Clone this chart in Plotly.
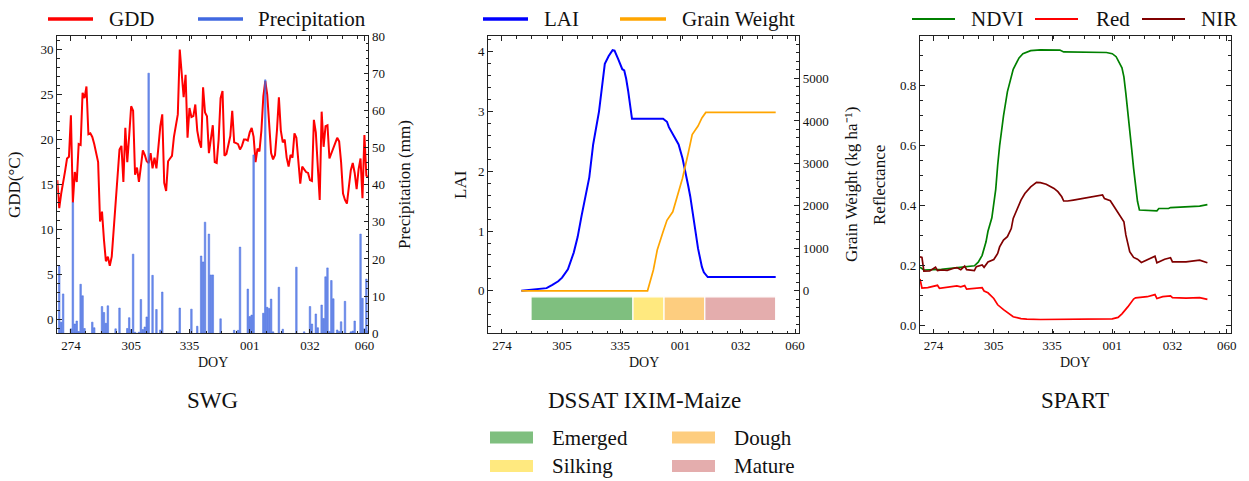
import plotly.graph_objects as go

W, H = 1249, 481
FONT = "Liberation Serif"
INK = "#111111"

# ---------------- data (x = days since 1 Oct, i.e. DOY 274) ----------------
tick_days = [0, 31, 61, 92, 123, 151]
tick_labels = ["274", "305", "335", "001", "032", "060"]

# SWG: daily GDD and precipitation
gdd_day = list(range(-7, 154))
gdd = [15.5, 12.4, 14.0, 15.5, 16.5, 17.9, 18.1,
       22.7, 13.0, 16.4, 15.3, 19.5, 19.4, 25.2, 24.6, 25.9, 20.6,
       20.7, 20.3, 19.5, 18.5, 17.5, 10.9, 12.0, 8.9, 6.5, 7.0,
       6.0, 7.0, 10.0, 12.0, 15.5, 18.9, 19.3, 15.3, 21.3, 17.5,
       20.5, 23.7, 23.2, 16.1, 16.9, 15.3, 17.0, 18.8, 18.3, 17.6,
       17.4, 18.5, 16.8, 18.0, 16.8, 19.0, 21.5, 22.8, 15.2, 14.3,
       17.6, 17.9, 18.2, 20.3, 21.5, 22.8, 30.0, 27.2, 24.7, 27.2,
       20.2, 23.5, 22.5, 22.6, 23.9, 21.0, 19.8, 19.1, 25.8, 23.0,
       22.6, 18.5, 20.4, 21.6, 17.5, 17.4, 20.0, 24.6, 25.4, 18.2,
       18.4, 19.5, 20.4, 23.2, 19.7, 19.6, 19.5, 18.9, 19.3, 20.0,
       20.0, 19.9, 20.8, 21.3, 20.3, 17.5, 19.0, 18.7, 21.0, 24.8,
       26.5, 25.0, 22.0, 18.5, 17.8, 18.3, 21.0, 24.7, 21.0, 19.7,
       20.0, 18.0, 17.0, 18.3, 18.0, 20.7, 20.2, 17.5, 15.1, 17.0,
       16.7, 16.4, 16.3, 15.5, 15.4, 22.2, 20.8, 17.0, 13.3, 23.1,
       19.2, 21.5, 21.6, 17.9, 18.5, 19.2, 19.8, 20.2, 19.8, 17.5,
       14.0, 13.3, 12.9, 14.5, 16.6, 17.4, 16.3, 14.5, 16.7, 17.9,
       13.5, 20.5, 16.0, 15.9]

precip_day = [-6, -5, -4, 0, 1, 2, 3, 4, 5, 6, 7, 11, 12, 16, 17, 18, 19,
              23, 25, 29, 30, 31, 32, 33, 35, 36, 37, 38, 39, 40, 42, 44,
              46, 47, 55, 56, 62, 65, 67, 68, 69, 71, 72, 73, 77, 84, 86,
              87, 91, 92, 93, 94, 99, 100, 101, 102, 103, 104, 107, 109,
              116, 120, 123, 124, 126, 127, 129, 130, 131, 132, 133, 134,
              135, 137, 138, 139, 141, 144, 145, 146, 149, 150, 151, 152, 153]
precip_mm = [18.1, 3.0, 10.6, 1.2, 35.2, 2.5, 3.3, 0.5, 13.2, 10.1, 1.3,
             3.0, 1.5, 7.2, 5.6, 2.7, 7.4, 1.2, 6.8, 1.3, 4.2, 1.0, 21.3,
             0.3, 0.3, 9.1, 1.0, 1.7, 4.4, 70.0, 15.6, 6.4, 0.9, 11.1, 0.4,
             6.8, 6.5, 1.9, 20.8, 19.2, 29.9, 26.7, 15.7, 15.7, 3.9, 0.8,
             0.8, 23.2, 11.9, 4.5, 4.9, 48.0, 5.4, 68.2, 7.0, 6.7, 9.2,
             0.4, 12.4, 1.1, 17.8, 0.4, 7.2, 2.5, 5.2, 1.5, 7.6, 4.0, 15.2,
             17.6, 0.5, 14.2, 9.3, 0.9, 0.5, 3.1, 8.6, 0.4, 0.6, 3.3, 26.7,
             9.4, 1.2, 14.6, 0.7]

# DSSAT IXIM-Maize
lai_day = [10, 17, 23, 26, 29, 31, 34, 37, 39, 41, 43, 45, 47, 50, 53, 55,
           57, 58, 60, 61, 62, 63, 64, 65, 67, 83, 85, 86, 88, 90, 91, 93,
           95, 96, 97, 99, 101, 103, 104, 106, 141]
lai = [0.00, 0.02, 0.045, 0.10, 0.16, 0.22, 0.36, 0.64, 0.90, 1.25, 1.55,
       1.90, 2.45, 3.00, 3.80, 3.93, 4.03, 4.02, 3.87, 3.77, 3.71, 3.69,
       3.55, 3.35, 2.88, 2.88, 2.83, 2.74, 2.63, 2.52, 2.45, 2.22, 1.93,
       1.75, 1.58, 1.16, 0.71, 0.40, 0.31, 0.23, 0.23]
gw_day = [10, 75, 78, 80, 83, 85, 88, 91, 93, 96, 98, 101, 103, 105, 141]
grain_weight = [0, 0, 490, 960, 1390, 1660, 1860, 2300, 2650, 3250, 3680,
                3880, 4070, 4200, 4200]

phase_names = ["Emerged", "Silking", "Dough", "Mature"]
phase_start = [15, 67.5, 83.5, 104.5]
phase_end = [67.5, 83.5, 104.5, 141]
phase_colors = ["#7fbf7f", "#ffe97f", "#fdcd7f", "#e4adad"]

# SPART
ndvi_day = [-7, -5, 4, 16, 21, 23, 25, 27, 28, 30, 31, 32, 33, 34, 36, 38,
            41, 44, 46, 50, 55, 62, 65, 67, 82, 89, 92, 94, 97, 98, 99, 100,
            101, 102, 103, 104, 105, 106, 115, 116, 121, 122, 130, 137, 141]
ndvi = [0.195, 0.186, 0.188, 0.195, 0.200, 0.212, 0.235, 0.280, 0.315,
        0.360, 0.400, 0.455, 0.535, 0.600, 0.700, 0.780, 0.855, 0.893,
        0.907, 0.917, 0.920, 0.921, 0.919, 0.913, 0.913, 0.911, 0.907,
        0.897, 0.860, 0.830, 0.775, 0.720, 0.655, 0.590, 0.525, 0.460,
        0.415, 0.386, 0.383, 0.391, 0.391, 0.394, 0.396, 0.399, 0.404]
red_day = [-7, -6, -3, 0, 2, 3, 7, 10, 12, 14, 16, 17, 21, 23, 25, 26, 28,
           31, 33, 36, 39, 41, 45, 48, 55, 89, 92, 95, 97, 100, 103, 104,
           106, 110, 114, 115, 118, 122, 123, 130, 137, 141]
red = [0.156, 0.126, 0.127, 0.132, 0.135, 0.125, 0.128, 0.130, 0.133,
       0.130, 0.134, 0.122, 0.125, 0.128, 0.127, 0.116, 0.110, 0.091,
       0.070, 0.054, 0.040, 0.030, 0.024, 0.022, 0.021, 0.021, 0.023,
       0.028, 0.040, 0.063, 0.089, 0.093, 0.094, 0.097, 0.104, 0.091,
       0.097, 0.100, 0.094, 0.092, 0.094, 0.088]
nir_day = [-7, -6, -5, -2, 1, 2, 4, 7, 10, 12, 14, 16, 17, 21, 22, 25, 26,
           28, 31, 33, 34, 36, 38, 40, 41, 45, 47, 50, 53, 55, 58, 62, 64,
           66, 67, 69, 72, 79, 86, 87, 88, 91, 93, 96, 98, 99, 101, 103,
           105, 107, 110, 114, 115, 119, 122, 123, 130, 137, 141]
nir = [0.230, 0.228, 0.182, 0.183, 0.195, 0.184, 0.186, 0.185, 0.191,
       0.194, 0.187, 0.199, 0.187, 0.184, 0.197, 0.203, 0.195, 0.213,
       0.221, 0.241, 0.263, 0.286, 0.297, 0.324, 0.358, 0.419, 0.441,
       0.463, 0.478, 0.477, 0.472, 0.458, 0.447, 0.430, 0.416, 0.416,
       0.419, 0.428, 0.436, 0.436, 0.424, 0.417, 0.397, 0.369, 0.347,
       0.303, 0.247, 0.228, 0.222, 0.211, 0.219, 0.232, 0.210, 0.222,
       0.227, 0.213, 0.213, 0.219, 0.210]

# ---------------- helpers ----------------
def fx(p):
    return p / W


def fy(p):
    return 1 - p / H


XR = [-7, 153]
Y_DOM = [fy(333.3), fy(36)]
x_minor = [k * 7.75 for k in range(0, 21)
           if XR[0] <= k * 7.75 <= XR[1] and all(abs(k * 7.75 - t) > 0.01 for t in tick_days)]

axis_common = dict(showline=True, linecolor="#222222", linewidth=1.3,
                   ticks="inside", ticklen=4.5, tickwidth=1, tickcolor="#222222",
                   showgrid=False, zeroline=False, automargin=False,
                   tickfont=dict(family=FONT, size=13, color=INK))


def xaxis_cfg(dom, anchor):
    return dict(axis_common, domain=dom, anchor=anchor, range=XR,
                tickmode="array", tickvals=tick_days, ticktext=tick_labels,
                mirror="ticks",
                minor=dict(tickmode="array", tickvals=x_minor, ticks="inside",
                           ticklen=2.5, tickwidth=1, tickcolor="#222222"))


def yaxis_cfg(rng, vals, texts, minor_dt, **kw):
    d = dict(axis_common, range=rng, tickmode="array", tickvals=vals, ticktext=texts,
             minor=dict(tickmode="linear", tick0=0, dtick=minor_dt, ticks="inside",
                        ticklen=2.5, tickwidth=1, tickcolor="#222222"))
    d.update(kw)
    return d


fig = go.Figure()

# SWG
fig.add_trace(go.Scatter(x=gdd_day, y=gdd, mode="lines", line=dict(color="#ff0000", width=2),
                         xaxis="x", yaxis="y", showlegend=False))
fig.add_trace(go.Bar(x=precip_day, y=precip_mm, width=0.8,
                     marker=dict(color="rgba(65,105,225,0.75)",
                                 line=dict(color="rgba(65,105,225,1)", width=0.5)),
                     xaxis="x", yaxis="y2", showlegend=False))

# DSSAT
fig.add_trace(go.Bar(y=[-0.3] * len(phase_names),
                     x=[e - s for s, e in zip(phase_start, phase_end)],
                     base=phase_start, orientation="h", width=0.4,
                     marker=dict(color=phase_colors, line=dict(color="white", width=1.2)),
                     xaxis="x2", yaxis="y3", showlegend=False))
fig.add_trace(go.Scatter(x=lai_day, y=lai, mode="lines", line=dict(color="#0000ff", width=2),
                         xaxis="x2", yaxis="y3", showlegend=False))
fig.add_trace(go.Scatter(x=gw_day, y=grain_weight, mode="lines",
                         line=dict(color="#ffa500", width=1.7),
                         xaxis="x2", yaxis="y4", showlegend=False))

# SPART
fig.add_trace(go.Scatter(x=ndvi_day, y=ndvi, mode="lines", line=dict(color="#008000", width=1.7),
                         xaxis="x3", yaxis="y5", showlegend=False))
fig.add_trace(go.Scatter(x=red_day, y=red, mode="lines", line=dict(color="#ff0000", width=1.7),
                         xaxis="x3", yaxis="y5", showlegend=False))
fig.add_trace(go.Scatter(x=nir_day, y=nir, mode="lines", line=dict(color="#800000", width=1.7),
                         xaxis="x3", yaxis="y5", showlegend=False))

fig.update_layout(
    width=W, height=H, autosize=False,
    margin=dict(l=0, r=0, t=0, b=0, pad=0),
    paper_bgcolor="white", plot_bgcolor="white",
    barmode="overlay", showlegend=False,
    font=dict(family=FONT, color=INK),
    xaxis=xaxis_cfg([fx(57.3), fx(368.3)], "y"),
    xaxis2=xaxis_cfg([fx(488.3), fx(799)], "y3"),
    xaxis3=xaxis_cfg([fx(920), fx(1230.7)], "y5"),
    yaxis=yaxis_cfg([-1.5, 31.5], [0, 5, 10, 15, 20, 25, 30],
                    ["0", "5", "10", "15", "20", "25", "30"], 1,
                    domain=Y_DOM, anchor="x", side="left"),
    yaxis2=yaxis_cfg([0, 80], [0, 10, 20, 30, 40, 50, 60, 70, 80],
                     ["0", "10", "20", "30", "40", "50", "60", "70", "80"], 2,
                     overlaying="y", anchor="x", side="right"),
    yaxis3=yaxis_cfg([-0.711, 4.266], [0, 1, 2, 3, 4], ["0", "1", "2", "3", "4"], 0.2,
                     domain=Y_DOM, anchor="x2", side="left"),
    yaxis4=yaxis_cfg([-1000, 6000], [0, 1000, 2000, 3000, 4000, 5000],
                     ["0", "1000", "2000", "3000", "4000", "5000"], 200,
                     overlaying="y3", anchor="x2", side="right"),
    yaxis5=yaxis_cfg([-0.025, 0.966], [0, 0.2, 0.4, 0.6, 0.8],
                     ["0.0", "0.2", "0.4", "0.6", "0.8"], 0.05,
                     domain=Y_DOM, anchor="x3", side="left", mirror="ticks"),
)

shapes = []
annotations = []


def text(x, y, s, size, xanchor="left", angle=0):
    annotations.append(dict(x=fx(x), y=fy(y), xref="paper", yref="paper", text=s,
                            showarrow=False, xanchor=xanchor, yanchor="middle",
                            textangle=angle, font=dict(family=FONT, size=size, color=INK)))


def leg_line(x0, x1, y, color, w):
    shapes.append(dict(type="line", xref="paper", yref="paper", x0=fx(x0), x1=fx(x1),
                       y0=fy(y), y1=fy(y), line=dict(color=color, width=w)))


# top legends
leg_line(48, 93, 19, "#ff0000", 3.5)
text(107, 19, "GDD", 21)
leg_line(198, 243, 19, "#4169e1", 3.5)
text(256, 19, "Precipitation", 21)

leg_line(483, 528, 19, "#0000ff", 3.5)
text(542, 19, "LAI", 21)
leg_line(620, 666, 19, "#ffa500", 3.5)
text(680, 19, "Grain Weight", 21)

leg_line(912, 955, 19, "#008000", 2)
text(969, 19, "NDVI", 21)
leg_line(1035, 1078, 19, "#ff0000", 2)
text(1094, 19, "Red", 21)
leg_line(1142, 1185, 19, "#800000", 2)
text(1199, 19, "NIR", 21)

# axis titles
text(15, 185, "GDD(°C)", 17, xanchor="center", angle=-90)
text(405, 185, "Precipitation (mm)", 17, xanchor="center", angle=-90)
text(461, 185, "LAI", 17, xanchor="center", angle=-90)
text(852, 185, "Grain Weight (kg ha⁻¹)", 17, xanchor="center", angle=-90)
text(880, 185, "Reflectance", 17, xanchor="center", angle=-90)
for cx in [(57.3 + 368.3) / 2, (488.3 + 799) / 2, (920 + 1230.7) / 2]:
    text(cx, 362, "DOY", 14, xanchor="center")

# panel titles
text(212, 400, "SWG", 23, xanchor="center")
text(644, 400, "DSSAT IXIM-Maize", 23, xanchor="center")
text(1075, 400, "SPART", 23, xanchor="center")

# phase legend
leg_pos = [(490, 437.5), (490, 466), (672, 437.5), (672, 466)]
for name, col, (lx, ly) in zip(phase_names, phase_colors, leg_pos):
    shapes.append(dict(type="rect", xref="paper", yref="paper",
                       x0=fx(lx), x1=fx(lx + 43), y0=fy(ly + 6), y1=fy(ly - 6),
                       fillcolor=col, line=dict(width=0)))
    text(lx + 60, ly, name, 21)

fig.update_layout(shapes=shapes, annotations=annotations)
fig.write_html("out.html",
               post_script="document.body.style.margin='0';document.body.style.overflow='hidden';")
